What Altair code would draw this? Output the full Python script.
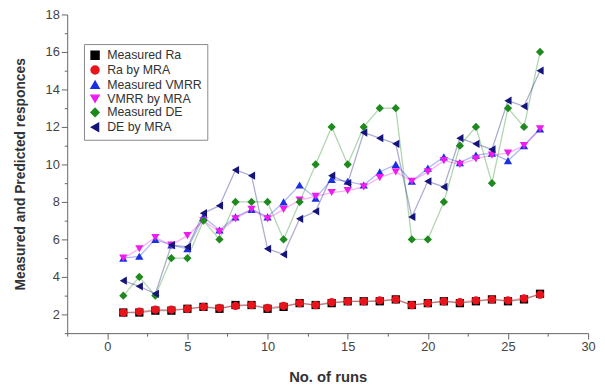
import altair as alt
import pandas as pd

runs = list(range(1, 28))
series_names = ["Measured Ra", "Ra by MRA", "Measured VMRR", "VMRR by MRA", "Measured DE", "DE by MRA"]

measured_ra = [2.1, 2.1, 2.2, 2.2, 2.3, 2.4, 2.3, 2.5, 2.5, 2.3, 2.4, 2.6, 2.5, 2.6,
               2.7, 2.7, 2.7, 2.8, 2.5, 2.6, 2.7, 2.6, 2.7, 2.8, 2.7, 2.8, 3.1]
ra_mra = [2.1, 2.15, 2.25, 2.25, 2.3, 2.4, 2.35, 2.45, 2.5, 2.35, 2.45, 2.6, 2.5, 2.65,
          2.7, 2.7, 2.75, 2.8, 2.5, 2.6, 2.7, 2.65, 2.75, 2.8, 2.75, 2.85, 3.05]
measured_vmrr = [5.0, 5.1, 6.0, 5.7, 5.5, 7.2, 6.5, 7.2, 7.6, 7.2, 8.0, 8.9, 8.2, 9.2,
                 9.1, 8.9, 9.6, 10.0, 9.1, 9.8, 10.4, 10.1, 10.5, 10.6, 10.2, 11.0, 11.9]
vmrr_mra = [5.0, 5.5, 6.1, 5.7, 6.2, 7.0, 6.4, 7.1, 7.6, 7.1, 7.6, 8.1, 8.3, 8.5,
            8.6, 8.8, 9.3, 9.6, 9.1, 9.6, 10.2, 10.0, 10.3, 10.5, 10.6, 11.0, 11.9]
measured_de = [3, 4, 3, 5, 5, 7, 6, 8, 8, 8, 6, 8, 10, 12,
               10, 12, 13, 13, 6, 6, 8, 11, 12, 9, 13, 12, 16]
de_mra = [3.8, 3.5, 3.1, 5.7, 5.6, 7.4, 7.8, 9.7, 9.4, 5.5, 5.2, 7.1, 7.5, 9.4,
          9.0, 11.7, 11.4, 11.1, 7.2, 9.1, 8.8, 11.4, 11.1, 10.8, 13.4, 13.1, 15.0]

colors = ["#000000", "#e8141c", "#1a2fe0", "#ee1cee", "#1e8a1e", "#14147a"]
shapes = ["square", "circle", "triangle-up", "triangle-down", "diamond", "triangle-left"]

all_vals = [measured_ra, ra_mra, measured_vmrr, vmrr_mra, measured_de, de_mra]
rows = []
for name, vals in zip(series_names, all_vals):
    for r, v in zip(runs, vals):
        rows.append({"run": r, "value": v, "series": name})
df = pd.DataFrame(rows)

x_ticks = [i * 2.5 for i in range(-1, 13)]
y_ticks = list(range(1, 19))

x_enc = alt.X("run:Q", scale=alt.Scale(domain=[-2.5, 30], nice=False, zero=False),
              axis=alt.Axis(title="No. of runs", values=x_ticks, grid=False,
                            labelExpr="datum.value % 5 === 0 ? datum.label : ''",
                            tickSize={"condition": {"test": "datum.value % 5 === 0", "value": 6}, "value": 3},
                            domainColor="#666", tickColor="#666", labelColor="#444",
                            labelFont="Liberation Sans", labelFontSize=13,
                            titleFont="Liberation Sans", titleFontSize=15, titleFontWeight="bold",
                            titleColor="#333", titlePadding=16, labelFlush=False))
y_enc = alt.Y("value:Q", scale=alt.Scale(domain=[1, 18], nice=False, zero=False),
              axis=alt.Axis(title="Measured and Predicted responces", values=y_ticks, grid=False,
                            labelExpr="datum.value % 2 === 0 ? datum.label : ''",
                            tickSize={"condition": {"test": "datum.value % 2 === 0", "value": 6}, "value": 3},
                            domainColor="#666", tickColor="#666", labelColor="#444",
                            labelFont="Liberation Sans", labelFontSize=13,
                            titleFont="Liberation Sans", titleFontSize=14, titleFontWeight="bold",
                            titleColor="#333", titlePadding=18, labelFlush=False))

legend_spec = alt.Legend(title=None, orient="none", legendX=17, legendY=30,
                         strokeColor="#888", padding=5, labelFont="Liberation Sans",
                         labelFontSize=12.5, labelColor="#333", symbolSize=65,
                         symbolOpacity=1, rowPadding=0, labelLimit=250, labelOffset=6)
color_enc = alt.Color("series:N", scale=alt.Scale(domain=series_names, range=colors),
                      sort=series_names, legend=legend_spec)
shape_enc = alt.Shape("series:N", scale=alt.Scale(domain=series_names, range=shapes),
                      sort=series_names, legend=legend_spec)

lines = alt.Chart(df).mark_line(strokeWidth=1.3, opacity=0.35).encode(
    x=x_enc, y=y_enc, color=color_enc, detail="series:N")
points = alt.Chart(df).mark_point(filled=True, size=70, opacity=1).encode(
    x=x_enc, y=y_enc, color=color_enc, shape=shape_enc)

chart = alt.layer(lines, points).properties(
    width=528, height=323,
    autosize=alt.AutoSizeParams(type="none"),
    padding={"left": 60, "top": 4, "right": 9, "bottom": 49},
).configure_view(stroke=None)

chart.save("out.html", embed_options={"renderer": "svg", "actions": False})
